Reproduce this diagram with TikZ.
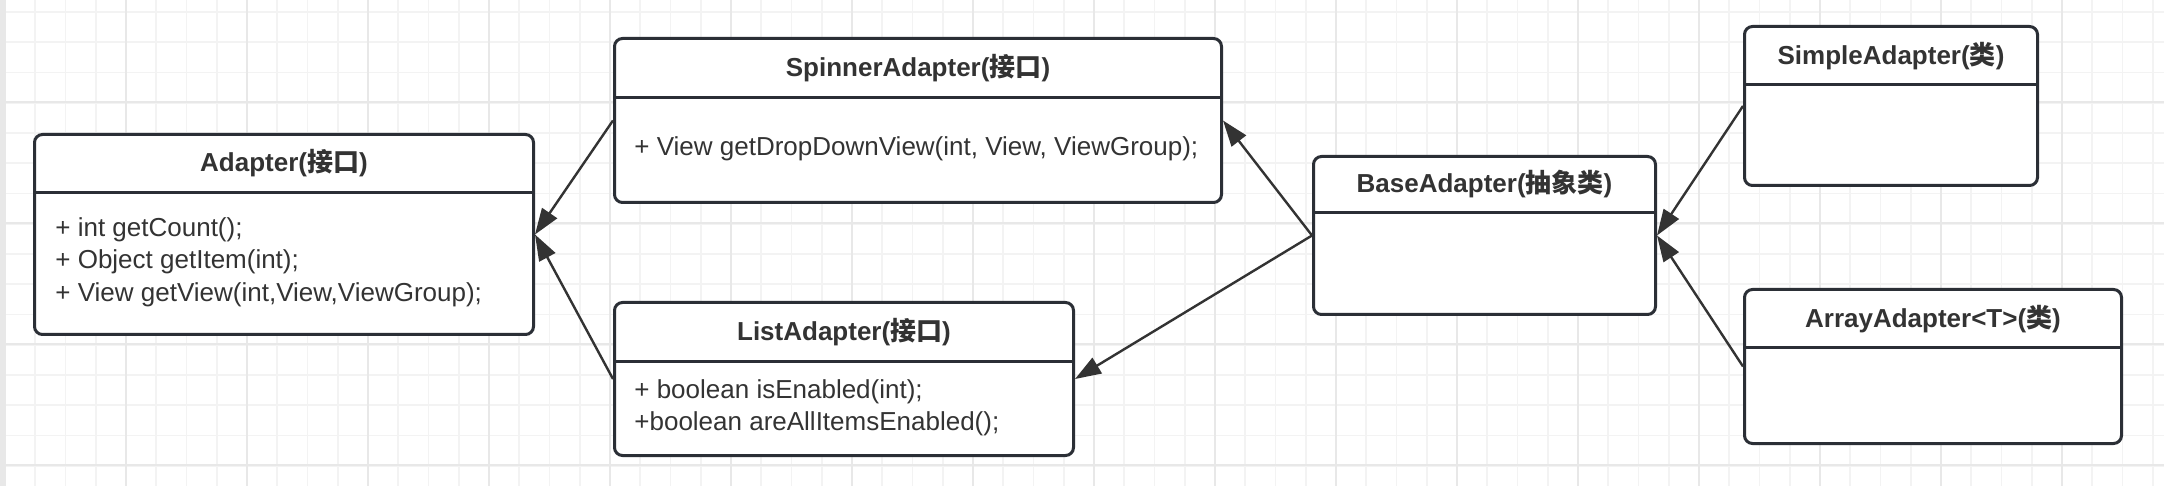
\documentclass[tikz,border=0pt]{standalone}
\usepackage{fontspec}
\setmainfont{Liberation Sans}
\newfontfamily\cjk{Noto Sans CJK SC}
\usetikzlibrary{arrows.meta}
\newcommand{\zh}[1]{{\cjk #1}}
\definecolor{linec}{HTML}{2B2F36}
\definecolor{txt}{HTML}{333333}
\definecolor{gridminor}{HTML}{F3F3F3}
\definecolor{gridmajor}{HTML}{E8E8E8}
\tikzset{
    cls/.style={draw=linec, line width=1.5pt, rounded corners=4pt, fill=white,
        anchor=north west, inner sep=0pt},
    ttl/.style={font=\fontsize{13}{16}\selectfont\bfseries, text=txt},
    mem/.style={anchor=west, text=txt, align=left, inner sep=0pt,
        font=\fontsize{13}{16.25}\selectfont},
    inh/.style={-{Triangle[length=13pt,width=9pt]}, line width=1.2pt, draw=txt},
}
\begin{document}
\begin{tikzpicture}[x=0.5pt, y=-0.5pt]
    \useasboundingbox (0,0) rectangle (2164,486);
    \fill[white] (0,0) rectangle (2164,486);
    \foreach \i in {0,...,71} {\draw[gridminor, line width=0.8pt] (5+30.25*\i,0) -- (5+30.25*\i,486);}
    \foreach \i in {-1,...,16} {\draw[gridminor, line width=0.8pt] (0,12+30.25*\i) -- (2164,12+30.25*\i);}
    \foreach \i in {0,...,17} {\draw[gridmajor, line width=0.8pt] (5+121*\i,0) -- (5+121*\i,486);}
    \foreach \i in {0,...,3} {\draw[gridmajor, line width=0.8pt] (0,102+121*\i) -- (2164,102+121*\i);}
    \fill[gridmajor] (0,0) rectangle (6,486);

    \node[cls, minimum width=249.5pt, minimum height=100pt] (adp) at (33,133) {};
    \node[ttl] (adpT) at ([yshift=-15pt]adp.north) {Adapter(\zh{接口})};
    \draw[linec, line width=1.5pt] ([yshift=-30pt]adp.north west) -- ([yshift=-30pt]adp.north east);
    \node[mem] (adpM) at (55,262) {+ int getCount();\\+ Object getItem(int);\\+ View getView(int,View,ViewGroup);};

    \node[cls, minimum width=303.5pt, minimum height=82pt] (spin) at (613,37) {};
    \node[ttl] (spinT) at ([yshift=-15.5pt]spin.north) {SpinnerAdapter(\zh{接口})};
    \draw[linec, line width=1.5pt] ([yshift=-30.5pt]spin.north west) -- ([yshift=-30.5pt]spin.north east);
    \node[mem] (spinM) at (634,149) {+ View getDropDownView(int, View, ViewGroup);};

    \node[cls, minimum width=229.5pt, minimum height=76.5pt] (list) at (613,301) {};
    \node[ttl] (listT) at ([yshift=-15.5pt]list.north) {ListAdapter(\zh{接口})};
    \draw[linec, line width=1.5pt] ([yshift=-30.5pt]list.north west) -- ([yshift=-30.5pt]list.north east);
    \node[mem] (listM) at (634,408) {+ boolean isEnabled(int);\\+boolean areAllItemsEnabled();};

    \node[cls, minimum width=171pt, minimum height=79pt] (base) at (1312,155) {};
    \node[ttl] (baseT) at ([yshift=-14.5pt]base.north) {BaseAdapter(\zh{抽象类})};
    \draw[linec, line width=1.5pt] ([yshift=-29pt]base.north west) -- ([yshift=-29pt]base.north east);

    \node[cls, minimum width=146.5pt, minimum height=79.5pt] (simple) at (1743,25) {};
    \node[ttl] (simpleT) at ([yshift=-15.5pt]simple.north) {SimpleAdapter(\zh{类})};
    \draw[linec, line width=1.5pt] ([yshift=-30pt]simple.north west) -- ([yshift=-30pt]simple.north east);

    \node[cls, minimum width=188.5pt, minimum height=77pt] (array) at (1743,288) {};
    \node[ttl] (arrayT) at ([yshift=-15.5pt]array.north) {ArrayAdapter<T>(\zh{类})};
    \draw[linec, line width=1.5pt] ([yshift=-30pt]array.north west) -- ([yshift=-30pt]array.north east);

    \draw[inh] (spin.west) -- (adp.east);
    \draw[inh] (list.west) -- (adp.east);
    \draw[inh] (base.west) -- (spin.east);
    \draw[inh] (base.west) -- (list.east);
    \draw[inh] (simple.west) -- (base.east);
    \draw[inh] (array.west) -- (base.east);
\end{tikzpicture}
\end{document}
